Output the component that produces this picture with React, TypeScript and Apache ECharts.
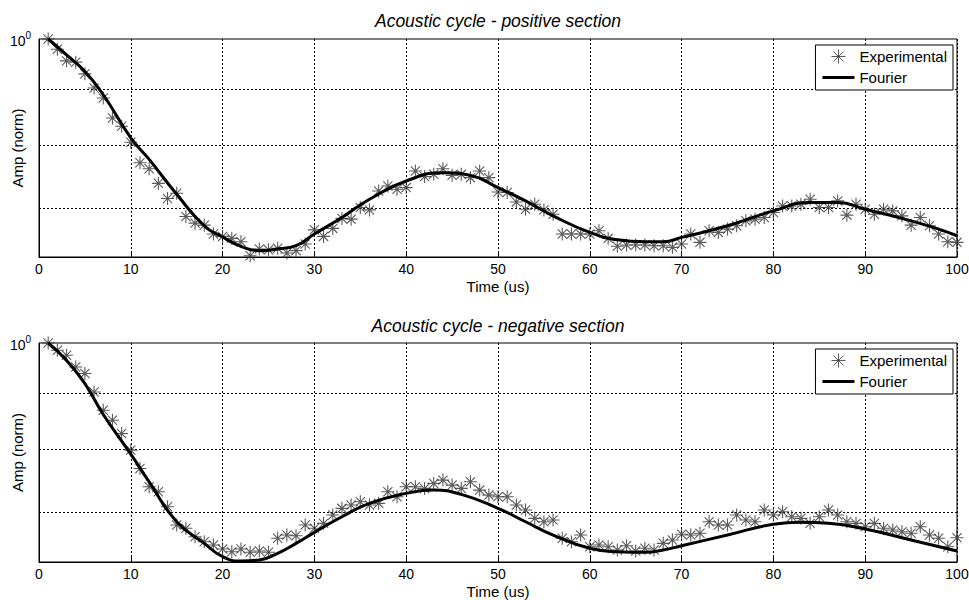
import React, { useEffect, useRef } from "react";
import * as echarts from "echarts";

const titles = ["Acoustic cycle - positive section", "Acoustic cycle - negative section"];
const xName = "Time (us)";
const yName = "Amp (norm)";
const seriesNames = ["Experimental", "Fourier"];
const xTicks = { min: 0, max: 100, interval: 10 };
const yRangeTop = { min: 0.632, max: 1 };
const yRangeBottom = { min: 0.630, max: 1 };
const yGridValues = [0.9, 0.8, 0.7];

const expX = [
  1, 2, 3, 4, 5, 6, 7, 8, 9, 10, 11, 12, 13, 14, 15, 16, 17, 18, 19, 20,
  21, 22, 23, 24, 25, 26, 27, 28, 29, 30, 31, 32, 33, 34, 35, 36, 37, 38, 39, 40,
  41, 42, 43, 44, 45, 46, 47, 48, 49, 50, 51, 52, 53, 54, 55, 56, 57, 58, 59, 60,
  61, 62, 63, 64, 65, 66, 67, 68, 69, 70, 71, 72, 73, 74, 75, 76, 77, 78, 79, 80,
  81, 82, 83, 84, 85, 86, 87, 88, 89, 90, 91, 92, 93, 94, 95, 96, 97, 98, 99, 100,
];

const expTop = [
  1.0, 0.9787, 0.955, 0.9524, 0.9293, 0.9019, 0.8832, 0.8469, 0.8322, 0.8047,
  0.7707, 0.7611, 0.738, 0.7148, 0.7228, 0.6883, 0.6787, 0.6758, 0.6633, 0.66,
  0.6573, 0.6526, 0.6337, 0.6427, 0.6418, 0.6437, 0.6374, 0.6405, 0.6495, 0.6692,
  0.66, 0.6712, 0.6855, 0.6844, 0.7014, 0.6979, 0.7262, 0.7339, 0.7288, 0.7314,
  0.7573, 0.7485, 0.7521, 0.7611, 0.7505, 0.7521, 0.7469, 0.7573, 0.7469, 0.7247,
  0.7238, 0.7096, 0.6989, 0.7062, 0.6979, 0.6916, 0.6633, 0.6633, 0.6633, 0.6633,
  0.6679, 0.6573, 0.6464, 0.6481, 0.6481, 0.6481, 0.6472, 0.6472, 0.645, 0.6495,
  0.6633, 0.6518, 0.6679, 0.6656, 0.6702, 0.6749, 0.682, 0.6844, 0.6869, 0.6941,
  0.7037, 0.7037, 0.7062, 0.7137, 0.7014, 0.7014, 0.7112, 0.6902, 0.7062, 0.6989,
  0.6916, 0.6989, 0.6964, 0.6892, 0.6758, 0.6869, 0.6749, 0.6633, 0.6526, 0.6518,
];

const fourierTopX = [1, 3, 5, 7, 10, 12, 15, 18, 20, 22, 24, 26, 28, 30, 33, 36, 40, 44, 47, 50, 53, 56, 60, 63, 66, 68, 70, 75, 80, 84, 87, 90, 95, 98, 100];
const fourierTop = [
  1.0, 0.967, 0.9338, 0.8893, 0.8122, 0.7761, 0.7212, 0.6749, 0.6591, 0.6464,
  0.6405, 0.6427, 0.6472, 0.6633, 0.6869, 0.7137, 0.7416, 0.7548, 0.7505, 0.7314,
  0.7112, 0.6892, 0.6656, 0.6553, 0.6526, 0.6526, 0.6586, 0.6749, 0.6964, 0.7088,
  0.7088, 0.6989, 0.682, 0.6702, 0.6609,
];

const expBottom = [
  1.0, 0.9847, 0.9744, 0.9507, 0.9376, 0.9019, 0.8678, 0.8497, 0.8262, 0.7977,
  0.7675, 0.7383, 0.7306, 0.7079, 0.6811, 0.6764, 0.6645, 0.6576, 0.653, 0.6475,
  0.6438, 0.6475, 0.643, 0.6448, 0.643, 0.6623, 0.6669, 0.6659, 0.6811, 0.6764,
  0.6835, 0.6956, 0.7055, 0.7104, 0.7153, 0.7104, 0.713, 0.7306, 0.7229, 0.7383,
  0.7383, 0.7358, 0.7436, 0.7488, 0.741, 0.7358, 0.7462, 0.7332, 0.7255, 0.7229,
  0.7229, 0.7104, 0.703, 0.6908, 0.6858, 0.6883, 0.6623, 0.6576, 0.6669, 0.6506,
  0.653, 0.6506, 0.6461, 0.652, 0.6448, 0.6485, 0.6461, 0.6553, 0.6599, 0.6679,
  0.6669, 0.6693, 0.6858, 0.6811, 0.6811, 0.6956, 0.6883, 0.6858, 0.703, 0.6956,
  0.7005, 0.6931, 0.6908, 0.6835, 0.6931, 0.703, 0.6956, 0.6858, 0.6835, 0.6787,
  0.6835, 0.6764, 0.674, 0.6715, 0.6693, 0.6787, 0.6669, 0.6623, 0.6506, 0.6631,
];

const fourierBottomX = [1, 3, 5, 7, 10, 12, 15, 18, 20, 22, 24, 26, 28, 30, 33, 36, 40, 43, 46, 50, 53, 56, 60, 63, 66, 68, 70, 75, 80, 83, 86, 90, 95, 100];
const fourierBottom = [
  1.0, 0.964, 0.918, 0.86, 0.791, 0.746, 0.686, 0.6553, 0.6371, 0.6313,
  0.6327, 0.6417, 0.6553, 0.6707, 0.6931, 0.713, 0.7281, 0.7332, 0.7266, 0.7055,
  0.6858, 0.6669, 0.6485, 0.6438, 0.643, 0.6461, 0.652, 0.6669, 0.6821, 0.685,
  0.6835, 0.6754, 0.6599, 0.6448,
];

const FONT = "'Liberation Sans', Arial, Helvetica, sans-serif";
const STAR = "path://M5,0L5,10M0,5L10,5M1.46,1.46L8.54,8.54M1.46,8.54L8.54,1.46";
const BAR = "path://M0,0L32,0L32,3L0,3Z";
const STAR_COLOR = "#333";

const grids = [
  { left: 39, right: 12, top: 39, height: 218 },
  { left: 39, right: 12, top: 343, height: 219 },
];

function pairs(xs: number[], ys: number[]) {
  return xs.map((x, i) => [x, ys[i]]);
}

export default function App() {
  const ref = useRef<HTMLDivElement>(null);
  useEffect(() => {
    if (!ref.current) return;
    const chart = echarts.init(ref.current, null, { renderer: "svg" });
    const yRanges = [yRangeTop, yRangeBottom];
    const expData = [expTop, expBottom];
    const fx = [fourierTopX, fourierBottomX];
    const fy = [fourierTop, fourierBottom];

    const xAxis = grids.map((_, i) => ({
      type: "value",
      gridIndex: i,
      min: xTicks.min,
      max: xTicks.max,
      interval: xTicks.interval,
      name: xName,
      nameLocation: "middle",
      nameGap: 22,
      nameMoveOverlap: false,
      nameTextStyle: { color: "#000", fontSize: 15, fontFamily: FONT },
      axisLine: { show: true, onZero: false, lineStyle: { color: "#000", width: 1 } },
      axisTick: { show: true, inside: true, length: 5, lineStyle: { color: "#000" } },
      axisLabel: { color: "#000", fontSize: 14, fontFamily: FONT, margin: 5 },
      splitLine: { show: true, lineStyle: { color: "#000", width: 1, type: [2, 2] } },
    }));

    const yAxis = grids.map((_, i) => ({
      type: "log",
      logBase: 10,
      gridIndex: i,
      min: yRanges[i].min,
      max: yRanges[i].max,
      name: yName,
      nameLocation: "middle",
      nameGap: 14,
      nameMoveOverlap: false,
      nameTextStyle: { color: "#000", fontSize: 15, fontFamily: FONT },
      axisLine: { show: true, lineStyle: { color: "#000", width: 1 } },
      axisTick: { show: false },
      splitLine: { show: false },
      axisLabel: {
        show: true,
        margin: 8,
        showMinLabel: false,
        formatter: (v: number) => (Math.abs(v - 1) < 1e-6 ? "{b|10}{s|0}" : ""),
        rich: {
          b: { fontSize: 14, fontFamily: FONT, color: "#000", lineHeight: 18, verticalAlign: "bottom" },
          s: { fontSize: 10, fontFamily: FONT, color: "#000", lineHeight: 10, verticalAlign: "top" },
        },
      },
    }));

    const series: any[] = [];
    grids.forEach((_, i) => {
      series.push({
        name: seriesNames[0],
        type: "scatter",
        xAxisIndex: i,
        yAxisIndex: i,
        symbol: STAR,
        symbolSize: 13,
        itemStyle: { color: "transparent", borderColor: STAR_COLOR, borderWidth: 1.1 },
        data: pairs(expX, expData[i]),
        z: 3,
        markLine: {
          silent: true,
          symbol: "none",
          z: 1,
          label: { show: false },
          lineStyle: { color: "#000", width: 1, type: [2, 2] },
          data: yGridValues.map((v) => ({ yAxis: v })),
        },
      });
      series.push({
        name: seriesNames[1],
        type: "line",
        xAxisIndex: i,
        yAxisIndex: i,
        smooth: 0.5,
        showSymbol: false,
        symbol: "none",
        lineStyle: { color: "#000", width: 3 },
        itemStyle: { color: "#000" },
        data: pairs(fx[i], fy[i]),
        z: 4,
      });
    });

    const legendTops = [45, 349];
    const legend = legendTops.map((top) => ({
      top,
      right: 16,
      orient: "vertical",
      align: "left",
      backgroundColor: "#fff",
      borderColor: "#000",
      borderWidth: 1,
      borderRadius: 0,
      padding: [4, 6, 5, 7],
      itemWidth: 32,
      itemHeight: 14,
      itemGap: 6,
      selectedMode: false,
      textStyle: { color: "#000", fontSize: 15, fontFamily: FONT },
      data: [
        {
          name: seriesNames[0],
          icon: STAR,
          itemStyle: { color: "transparent", borderColor: STAR_COLOR, borderWidth: 1 },
        },
        {
          name: seriesNames[1],
          icon: BAR,
          itemStyle: { color: "#000", borderWidth: 0 },
        },
      ],
    }));

    const titleY = [12, 317];
    const graphic = titles.map((t, i) => ({
      type: "text",
      x: 498,
      y: titleY[i],
      silent: true,
      style: {
        text: t,
        fill: "#000",
        font: `italic 17.5px ${FONT}`,
        textAlign: "center",
        textVerticalAlign: "top",
      },
    }));

    chart.setOption({
      animation: false,
      backgroundColor: "#fff",
      grid: grids.map((g) => ({
        ...g,
        show: true,
        containLabel: false,
        outerBoundsMode: "none",
        borderColor: "#000",
        borderWidth: 1,
        backgroundColor: "#fff",
      })),
      xAxis,
      yAxis,
      legend,
      series,
      graphic,
    } as any);
    return () => chart.dispose();
  }, []);
  return <div ref={ref} style={{ position: "fixed", left: 0, top: 0, width: 969, height: 600, background: "#fff" }} />;
}
